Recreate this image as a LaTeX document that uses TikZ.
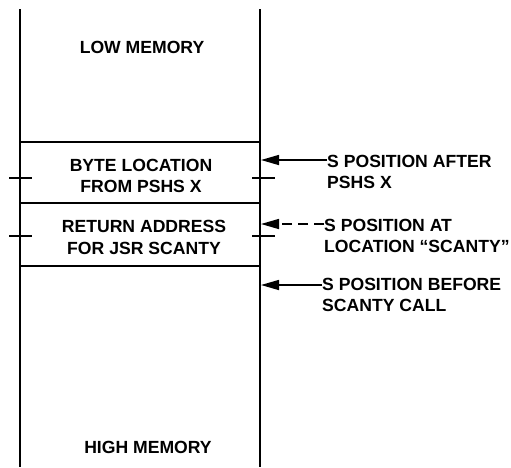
\documentclass[tikz,border=0pt]{standalone}
\usepackage{fontspec}
\setmainfont{Liberation Sans}
\usetikzlibrary{arrows.meta}

\begin{document}
\begin{tikzpicture}[x=1pt,y=-1pt,
  stk/.style={line width=1.6pt},
  tck/.style={line width=2.4pt},
  lbl/.style={font=\bfseries\fontsize{17.6}{21.5}\selectfont, align=center, inner sep=0pt},
  note/.style={lbl, align=left, anchor=north west},
  arr/.style={line width=1.5pt, -{Triangle[length=18pt,width=10pt]}}]
 \useasboundingbox (0,0) rectangle (511,467);
 \draw [stk] (20,9) -- (20,467);
 \draw [stk] (260,9) -- (260,467);
 \foreach \y in {142,203,266} \draw [stk] (20,\y) -- (260,\y);
 \foreach \y in {178,236} {
  \draw [tck] (9,\y) -- (32,\y);
  \draw [tck] (252,\y) -- (275,\y);
 }
 \node (low) [lbl] at (142,47.5) {LOW MEMORY};
 \node (byte) [lbl] at (141,176) {BYTE LOCATION\\FROM PSHS X};
 \node (ret) [lbl] at (144,237.5) {RETURN ADDRESS\\FOR JSR SCANTY};
 \node (high) [lbl] at (148,447.5) {HIGH MEMORY};
 \node (after) [note] at (327,155) {S POSITION AFTER\\PSHS X};
 \node (at) [note] at (324,219) {S POSITION AT\\LOCATION ``SCANTY''};
 \node (before) [note] at (322,278) {S POSITION BEFORE\\SCANTY CALL};
 \coordinate (sa) at (261,160);
 \coordinate (sb) at (261,224);
 \coordinate (sc) at (261,285);
 \draw [arr] (after.west |- sa) -- (sa);
 \draw [arr, dash pattern=on 10pt off 6pt] (at.west |- sb) -- (sb);
 \draw [arr] (before.west |- sc) -- (sc);
\end{tikzpicture}
\end{document}
